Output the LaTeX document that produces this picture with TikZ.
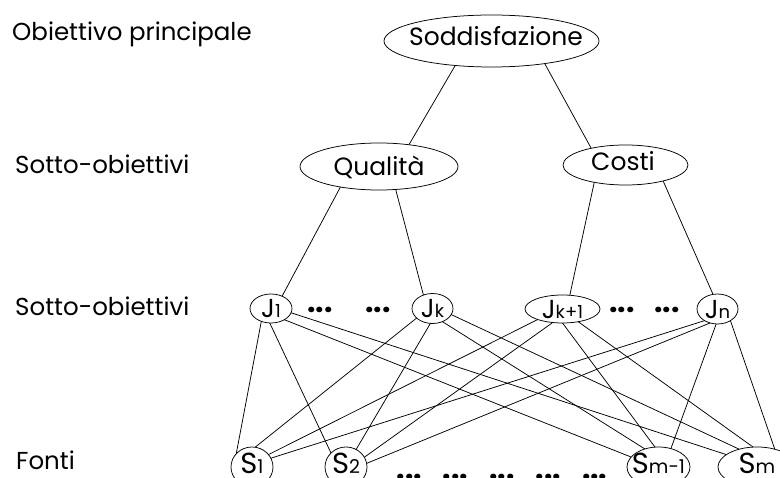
\documentclass[tikz,border=0pt]{standalone}
\usepackage{fontspec}
\setmainfont{Poppins}
\usetikzlibrary{shapes.geometric}
% letter with a smaller index, centred in a zero-width box
\newcommand{\jidx}[2]{\makebox[0pt]{#1{\fontsize{18}{18}\selectfont #2}}}
\newcommand{\sidx}[2]{\makebox[0pt]{#1{\fontsize{19}{19}\selectfont\raisebox{-0.5pt}{#2}}}}
\begin{document}
\begin{tikzpicture}[x=1pt,y=-1pt,
  oval/.style={draw, ellipse, inner sep=0pt, outer sep=0pt, line width=0.75pt, text depth=0pt},
  big/.style={font=\fontsize{25}{28}\selectfont},
  jfont/.style={font=\fontsize{26}{28}\selectfont},
  sfont/.style={font=\fontsize{29}{30}\selectfont},
  level/.style={anchor=base west, inner sep=0pt, text depth=0pt, font=\fontsize{24.5}{28}\selectfont},
  link/.style={line width=0.75pt},
  ellipsis/.style={anchor=base, inner sep=0pt, font=\fontsize{30}{30}\selectfont\bfseries}
]
\useasboundingbox (0,0) rectangle (780,478);
\clip (0,0) rectangle (780,478);

% level captions
\node[level] (lvl0) at (12,41)    {Obiettivo principale};
\node[level] (lvl1) at (15,173.5) {Sotto-obiettivi};
\node[level] (lvl2) at (15,315.5) {Sotto-obiettivi};
\node[level] (lvl3) at (16,470)   {Fonti};

% goal and sub-goals
\node[oval, big, minimum width=215pt, minimum height=52pt, text height=9pt] (goal) at (491.5,41)
  {\makebox[0pt]{\hspace{9pt}Soddisfazione}};
\node[oval, big, minimum width=158pt, minimum height=47pt, text height=19pt] (qual) at (379,166.5)
  {\makebox[0pt]{Qualità}};
\node[oval, big, minimum width=125pt, minimum height=40pt, text height=12pt] (cost) at (625.5,165)
  {\makebox[0pt]{\hspace{-5pt}Costi}};

% criteria
\node[oval, jfont, minimum width=42pt, minimum height=29pt, text height=19pt] (j1)  at (271,308.5)   {\jidx{J}{1}};
\node[oval, jfont, minimum width=41pt, minimum height=30pt, text height=19pt] (jk)  at (432.5,308.5) {\jidx{J}{k}};
\node[oval, jfont, minimum width=75pt, minimum height=28pt, text height=19pt] (jk1) at (562.5,309)   {\jidx{J}{k+1}};
\node[oval, jfont, minimum width=41pt, minimum height=30pt, text height=19pt] (jn)  at (717.5,309)   {\jidx{J}{n}};
\node[ellipsis] (dj1) at (320,313) {...};
\node[ellipsis] (dj2) at (378,313) {...};
\node[ellipsis] (dj3) at (622,313) {...};
\node[ellipsis] (dj4) at (667,313) {...};

% sources
\node[oval, sfont, minimum width=42pt, minimum height=40pt, text height=13pt] (s1)  at (252,467)   {\sidx{S}{1}};
\node[oval, sfont, minimum width=42pt, minimum height=40pt, text height=13pt] (s2)  at (346,467)   {\sidx{S}{2}};
\node[oval, sfont, minimum width=63pt, minimum height=40pt, text height=13pt] (sm1) at (658.5,467) {\sidx{S}{m-1}};
\node[oval, sfont, minimum width=78pt, minimum height=40pt, text height=13pt] (sm)  at (757,467)   {\sidx{S}{m}};
\node[ellipsis] (ds) at (502,479)
  {...\hspace{21pt}...\hspace{21pt}...\hspace{21pt}...\hspace{21pt}...};

% hierarchy links
\draw[link] (goal.214) -- (qual.36);
\draw[link] (goal.337) -- (cost.154);
\draw[link] (qual.208) -- (j1.48);
\draw[link] (qual.306) -- (jk.124);
\draw[link] (cost.209) -- (jk1.62);
\draw[link] (cost.337) -- (jn.107);

% every criterion linked to every source
\draw[link] (j1.233) -- (s1.140);
\draw[link] (j1.265) -- (s2.137);
\draw[link] (j1.320) -- (sm1.160);
\draw[link] (j1.348) -- (sm.158);
\draw[link] (jk.211) -- (s1.81);
\draw[link] (jk.262) -- (s2.60);
\draw[link] (jk.307) -- (sm1.127);
\draw[link] (jk.342) -- (sm.135);
\draw[link] (jk1.203) -- (s1.37);
\draw[link] (jk1.234) -- (s2.28);
\draw[link] (jk1.270) -- (sm1.100);
\draw[link] (jk1.321) -- (sm.101);
\draw[link] (jn.222) -- (s1.25);
\draw[link] (jn.242) -- (s2.10);
\draw[link] (jn.265) -- (sm1.56);
\draw[link] (jn.318) -- (sm.45);
\end{tikzpicture}
\end{document}
